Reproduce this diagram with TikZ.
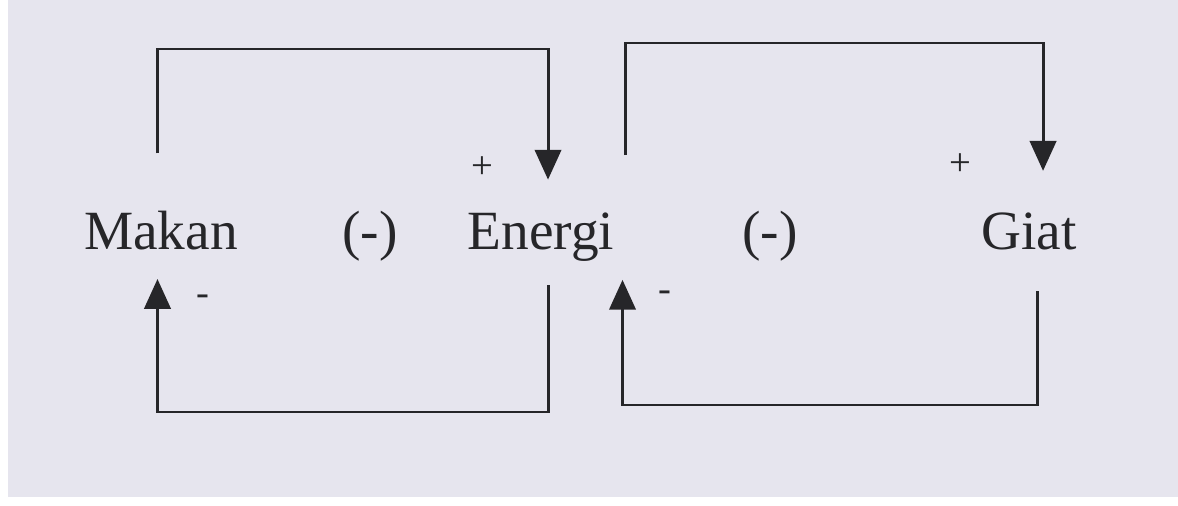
\documentclass[tikz,border=0pt]{standalone}
\usepackage{fontspec}
\setmainfont{Liberation Serif}
\usepackage{xcolor}
\usetikzlibrary{arrows.meta, calc}

\definecolor{kertas}{HTML}{E6E5EE}
\definecolor{tinta}{HTML}{262629}

\begin{document}
\begin{tikzpicture}[x=0.02cm, y=-0.02cm, >={Triangle[width=15pt,length=17pt]},
    kata/.style={font=\fontsize{31.5}{36}\selectfont, text=tinta, inner sep=0pt, anchor=base},
    tanda/.style={font=\fontsize{22}{24}\selectfont, text=tinta, inner sep=0pt},
    umpan/.style={->, line width=1.7pt, draw=tinta}]
    % Latar kertas
    \useasboundingbox (0,0) rectangle (1178,506);
    \fill[white] (0,0) rectangle (1178,506);
    \fill[kertas] (8,0) rectangle (1178,497);

    % Variabel
    \node[kata] (makan) at (161,250) {Makan};
    \node[kata] (neg1) at (370,250) {(-)};
    \node[kata] (energi) at (541,250) {Energi};
    \node[kata] (neg2) at (770,250) {(-)};
    \node[kata] (giat) at (1029,250) {Giat};

    % Tanda pengaruh
    \node[tanda] (plus1) at (482,168) {+};
    \node[tanda] (min1) at (203,300) {-};
    \node[tanda] (plus2) at (960,165) {+};
    \node[tanda] (min2) at (665,296) {-};

    % Ujung garis
    \coordinate (atas1) at (0,49);
    \coordinate (bawah1) at (0,412);
    \coordinate (atas2) at (0,43);
    \coordinate (bawah2) at (0,405);
    \coordinate (m1) at ([shift={(-2pt,33pt)}]makan.north);
    \coordinate (m2) at ([shift={(-2pt,-16pt)}]makan.south);
    \coordinate (e1) at ([shift={(4pt,19pt)}]energi.north);
    \coordinate (e2) at ([shift={(4pt,-13pt)}]energi.south);
    \coordinate (e3) at ([shift={(6pt,33pt)}]energi.north east);
    \coordinate (e4) at ([shift={(4.5pt,-10pt)}]energi.south east);
    \coordinate (g1) at ([shift={(8pt,24pt)}]giat.north);
    \coordinate (g2) at ([shift={(5pt,-23pt)}]giat.south);

    % Lingkar umpan balik
    \draw[umpan] (m1) |- (atas1 -| e1) -- (e1);
    \draw[umpan] (e2) |- (bawah1 -| m2) -- (m2);
    \draw[umpan] (e3) |- (atas2 -| g1) -- (g1);
    \draw[umpan] (g2) |- (bawah2 -| e4) -- (e4);
\end{tikzpicture}
\end{document}
